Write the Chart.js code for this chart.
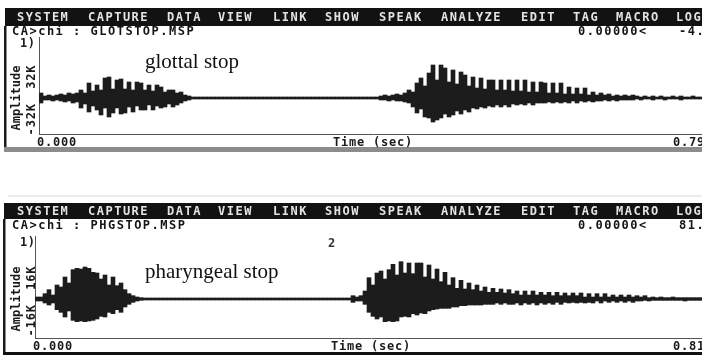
<!DOCTYPE html>
<html>
<head>
<meta charset="utf-8">
<script src="https://cdn.jsdelivr.net/npm/chart.js@4.4.1/dist/chart.umd.min.js"></script>
<style>
  html, body { margin: 0; padding: 0; background: #fff; overflow: hidden; }
  body { width: 702px; height: 355px; position: relative; }
  canvas { position: absolute; left: 0; }
  #glottal { top: 0; }
  #pharyngeal { top: 190px; }
</style>
</head>
<body>
<canvas id="glottal" width="720" height="152"></canvas>
<canvas id="pharyngeal" width="720" height="165"></canvas>
<script>
// two CSL waveform screens: glottal stop / pharyngeal stop
// amplitude envelope per display column (max / min), in K

let glottalHigh = [
  7.5, 3, 4.5, 3, 4.5, 6, 4.5, 7.5, 6,
  7.5, 12, 7.5, 22.5, 10.5, 19.5, 12, 30, 31.5, 13.5, 27, 28.5, 13.5, 24, 12, 24, 22.5, 12, 19.5, 10.5,
  19.5, 16.5, 9, 12, 12, 7.5, 9, 4.5, 3,
  1.5, 1.5, 1.5, 1.5, 1.5, 1.5, 1.5, 1.5, 1.5, 1.5, 1.5, 1.5, 1.5, 1.5, 1.5, 1.5,
  1.5, 1.5, 1.5, 1.5, 1.5, 1.5, 1.5, 1.5, 1.5, 1.5, 1.5, 1.5, 1.5, 1.5, 1.5, 1.5,
  1.5, 1.5, 1.5, 1.5, 1.5, 1.5, 1.5, 1.5, 1.5, 1.5, 1.5, 1.5, 1.5, 1.5, 1.5,
  3, 4.5, 3, 4.5, 6, 4.5, 7.5, 12, 9,
  22.5, 30, 18, 37.5, 49.5, 27, 49.5, 45, 24, 42,
  21, 39, 34.5, 18, 31.5, 15, 30, 13.5, 27, 27,
  12, 27, 12, 27, 10.5, 27, 10.5, 27, 9, 24,
  9, 24, 22.5, 7.5, 22.5, 7.5, 22.5, 6, 16.5, 6,
  15, 6, 15, 4.5, 9, 4.5, 7.5, 4.5, 6, 3,
  4.5, 3, 4.5, 3, 4.5,
  3, 1.5, 3, 1.5, 3, 1.5, 3, 1.5, 1.5, 3, 1.5, 3, 1.5, 1.5, 3, 1.5, 1.5, 1.5
];
let glottalLow = [
  -7.5, -3, -3, -4.5, -3, -4.5, -6, -4.5, -7.5,
  -6, -15, -9, -21, -12, -18, -25.5, -15, -28.5, -22.5, -15, -24, -22.5, -13.5, -21, -12, -18, -18, -10.5, -18,
  -12, -15, -13.5, -9, -13.5, -10.5, -7.5, -4.5, -3,
  -1.5, -1.5, -1.5, -1.5, -1.5, -1.5, -1.5, -1.5, -1.5, -1.5, -1.5, -1.5, -1.5, -1.5, -1.5, -1.5,
  -1.5, -1.5, -1.5, -1.5, -1.5, -1.5, -1.5, -1.5, -1.5, -1.5, -1.5, -1.5, -1.5, -1.5, -1.5, -1.5,
  -1.5, -1.5, -1.5, -1.5, -1.5, -1.5, -1.5, -1.5, -1.5, -1.5, -1.5, -1.5, -1.5, -1.5, -1.5,
  -3, -3, -4.5, -3, -4.5, -4.5, -6, -7.5, -13.5,
  -22.5, -16.5, -28.5, -30, -36, -33, -30, -24, -28.5, -25.5,
  -19.5, -24, -18, -21, -15, -16.5, -13.5, -15, -12, -13.5,
  -10.5, -13.5, -10.5, -13.5, -9, -10.5, -9, -10.5, -7.5, -10.5,
  -7.5, -7.5, -7.5, -6, -7.5, -6, -7.5, -6, -7.5, -4.5,
  -7.5, -4.5, -6, -4.5, -6, -4.5, -4.5, -3, -4.5, -3,
  -4.5, -3, -3, -3, -3,
  -1.5, -3, -1.5, -1.5, -3, -1.5, -1.5, -3, -1.5, -1.5, -1.5, -3, -1.5, -1.5, -1.5, -1.5, -1.5, -1.5
];

let pharyngealHigh = [
  1.5, 1.5, 4, 7, 3, 10.5, 9, 16.5, 12, 22, 23, 22.5, 24, 23, 20, 19.5, 15, 18, 10.5, 16.5,
  10, 12, 7, 4, 2.5, 1.5, 1,
  0.75, 0.75, 0.75, 0.75, 0.75, 0.75, 0.75, 0.75, 0.75, 0.75, 0.75, 0.75, 0.75,
  0.75, 0.75, 0.75, 0.75, 0.75, 0.75, 0.75, 0.75, 0.75, 0.75, 0.75, 0.75, 0.75,
  0.75, 0.75, 0.75, 0.75, 0.75, 0.75, 0.75, 0.75, 0.75, 0.75, 0.75, 0.75, 0.75,
  0.75, 0.75, 0.75, 0.75, 0.75, 0.75, 0.75, 0.75, 0.75, 0.75, 0.75, 0.75, 0.75,
  2.5, 1.5, 2.5, 6, 16, 10.5, 19.5, 21, 15, 22,
  26, 18, 28, 19.5, 27, 19, 27, 27, 16.5, 25.5,
  15, 22.5, 13, 20, 10.5, 16, 8, 14, 7.5, 12,
  7, 10.5, 6, 9, 5, 8, 5, 7.5, 4.5, 7,
  4, 6, 3, 6, 3, 6, 3, 5, 3, 5,
  2.5, 5, 2.5, 4.5, 2.5, 4.5, 2.5, 4.5, 1.5, 4,
  1.5, 4, 1.5, 4, 1.5, 3, 1.5, 3, 1.5, 3,
  1.5, 2.5, 1.5, 2.5, 1, 1.5,
  1, 1.5, 1, 1, 1.5, 1, 1, 1, 1, 1, 1, 1, 1
];
let pharyngealLow = [
  -1.5, -1.5, -3, -4.5, -3, -8, -10, -13.5, -9, -16, -17, -16.5, -17, -16.5, -16, -15, -13, -13.5, -10, -11,
  -8, -10, -6, -4, -2.5, -1.5, -1,
  -0.75, -0.75, -0.75, -0.75, -0.75, -0.75, -0.75, -0.75, -0.75, -0.75, -0.75, -0.75, -0.75,
  -0.75, -0.75, -0.75, -0.75, -0.75, -0.75, -0.75, -0.75, -0.75, -0.75, -0.75, -0.75, -0.75,
  -0.75, -0.75, -0.75, -0.75, -0.75, -0.75, -0.75, -0.75, -0.75, -0.75, -0.75, -0.75, -0.75,
  -0.75, -0.75, -0.75, -0.75, -0.75, -0.75, -0.75, -0.75, -0.75, -0.75, -0.75, -0.75, -0.75,
  -2.5, -1.5, -1.5, -4, -10, -13, -15, -13.5, -17, -16.5,
  -17, -16.5, -13.5, -13, -13.5, -11, -12, -10.5, -11, -9,
  -8, -7.5, -7, -7, -7, -6, -6, -5, -5, -4.5,
  -4.5, -4.5, -4.5, -4, -4, -4, -3, -4, -3, -4,
  -4, -3, -4.5, -3, -4, -3, -4.5, -3, -4, -3,
  -4, -2.5, -4, -2.5, -3, -2.5, -3, -2.5, -3, -2.5,
  -3, -1.5, -3, -1.5, -2.5, -1.5, -2.5, -1.5, -2.5, -1.5,
  -2.5, -1.5, -1.5, -1, -1.5, -1,
  -1, -1, -1, -1, -1, -1, -1, -1.5, -1, -1, -1, -1, -1
];

// time span of each screen (sec)
let glottalEnd = 0.793;
let pharyngealEnd = 0.810;

// amplitude tick labels
let glottalTicks = [32, -32];
let glottalTickLabels = ["32K", "-32K"];
let pharyngealTicks = [16, -16];
let pharyngealTickLabels = ["16K", "-16K"];

let menuItems = ["SYSTEM", "CAPTURE", "DATA", "VIEW", "LINK", "SHOW", "SPEAK", "ANALYZE", "EDIT", "TAG", "MACRO", "LOG"];
let menuX = [17, 88, 167, 218, 273, 325, 379, 441, 521, 573, 616, 676];

let mono = "bold 12px 'DejaVu Sans Mono'";

function monoText(ctx, text, x, y, color, align, spacing) {
  ctx.save();
  ctx.font = mono;
  ctx.letterSpacing = (spacing === undefined ? 1.5 : spacing) + "px";
  ctx.fillStyle = color;
  ctx.textAlign = align || "left";
  ctx.textBaseline = "middle";
  ctx.fillText(text, x, y);
  ctx.restore();
}

function upText(ctx, text, x, y, spacing) {
  ctx.save();
  ctx.translate(x, y);
  ctx.rotate(-Math.PI / 2);
  monoText(ctx, text, 0, 0, "#1a1a1a", "center", spacing);
  ctx.restore();
}

let screenFrame = {
  id: "screenFrame",
  beforeDraw(chart, args, o) {
    let ctx = chart.ctx;
    if (o.faintY) {
      ctx.fillStyle = "#ececec";
      ctx.fillRect(8, o.faintY, 712, 2);
    }
    // menu bar
    ctx.fillStyle = "#121212";
    ctx.fillRect(o.barLeft, o.barTop, 720, o.barHeight);
    menuItems.forEach(function (m, i) {
      monoText(ctx, m, menuX[i], o.barTop + o.barHeight / 2 + 1, "#e4e4e4");
    });
    // file line
    monoText(ctx, "CA>chi : " + o.file, 12, o.fileY, "#151515");
    monoText(ctx, "0.00000<", 578, o.fileY, "#151515");
    monoText(ctx, o.cursor, 679, o.fileY, "#151515");
    // frame
    ctx.fillStyle = "#1a1a1a";
    ctx.fillRect(o.borderX, o.barTop + o.barHeight, 2.5, chart.height - o.barTop - o.barHeight);
    ctx.fillStyle = o.bandColor;
    ctx.fillRect(o.borderX, o.bandY, 720, o.bandH);
  },
  afterDraw(chart, args, o) {
    let ctx = chart.ctx;
    let area = chart.chartArea;
    let y = chart.scales.y;
    let x = chart.scales.x;

    monoText(ctx, "1)", 20, area.top + 7, "#1a1a1a", "left", 0.5);
    upText(ctx, "Amplitude", 17, y.getPixelForValue(0), 0);
    o.ticks.forEach(function (v, i) {
      upText(ctx, o.tickLabels[i], 32, y.getPixelForValue(v), 0.8);
    });

    let rowY = area.bottom + 9;
    let labels = chart.data.labels;
    monoText(ctx, labels[0], area.left - 2, rowY, "#1a1a1a", "left", 0.8);
    monoText(ctx, "Time (sec)", (x.left + x.right) / 2, rowY, "#1a1a1a", "center", 0.8);
    monoText(ctx, o.endLabel, area.right + 6, rowY, "#1a1a1a", "right", 0.8);

    if (o.mark) {
      monoText(ctx, o.mark, o.markX, o.markY, "#333", "left", 0);
    }

    ctx.save();
    ctx.font = "21px 'Liberation Serif'";
    ctx.fillStyle = "#111";
    ctx.textBaseline = "alphabetic";
    ctx.fillText(o.note, o.noteX, o.noteY);
    ctx.restore();
  }
};

function makePanel(id, high, low, end, ticks, tickLabels, yMin, yMax, pad, frame) {
  let labels = [];
  for (let i = 0; i < high.length; i++) {
    labels.push((end * i / high.length).toFixed(3));
  }
  let bars = high.map(function (h, i) {
    return [low[i], h];
  });
  frame.ticks = ticks;
  frame.tickLabels = tickLabels;
  frame.endLabel = end.toFixed(3);

  let axisBorder = { display: true, color: "#555", width: 1, dash: [1, 1] };

  return new Chart(document.getElementById(id), {
    type: "bar",
    data: {
      labels: labels,
      datasets: [
        {
          label: "Amplitude",
          data: bars,
          backgroundColor: "#1c1c1c",
          borderWidth: 0,
          barPercentage: 1,
          categoryPercentage: 1,
        },
      ],
    },
    options: {
      responsive: false,
      animation: false,
      layout: { padding: pad },
      plugins: {
        legend: { display: false },
        tooltip: { enabled: false },
        screenFrame: frame,
      },
      scales: {
        x: {
          grid: { display: false, drawTicks: false },
          ticks: { display: false },
          border: axisBorder,
        },
        y: {
          min: yMin,
          max: yMax,
          grid: { display: false, drawTicks: false },
          ticks: { display: false },
          border: axisBorder,
        },
      },
    },
    plugins: [screenFrame],
  });
}

makePanel("glottal", glottalHigh, glottalLow, glottalEnd, glottalTicks, glottalTickLabels, -54, 91.5,
  { left: 39, top: 37, right: 13, bottom: 18 },
  {
    barTop: 8, barHeight: 18, barLeft: 5, fileY: 32, borderX: 4,
    file: "GLOTSTOP.MSP", cursor: "-4.1",
    bandY: 147, bandH: 5, bandColor: "#8c8c8c",
    note: "glottal stop", noteX: 145, noteY: 68,
  });

makePanel("pharyngeal", pharyngealHigh, pharyngealLow, pharyngealEnd, pharyngealTicks, pharyngealTickLabels, -29.25, 47.25,
  { left: 35, top: 46, right: 13, bottom: 17 },
  {
    barTop: 13, barHeight: 16, barLeft: 4, fileY: 36, borderX: 3,
    file: "PHGSTOP.MSP", cursor: "81.0",
    bandY: 162, bandH: 3, bandColor: "#111",
    note: "pharyngeal stop", noteX: 145, noteY: 88,
    mark: "2", markX: 328, markY: 54, faintY: 5,
  });
</script>
</body>
</html>
